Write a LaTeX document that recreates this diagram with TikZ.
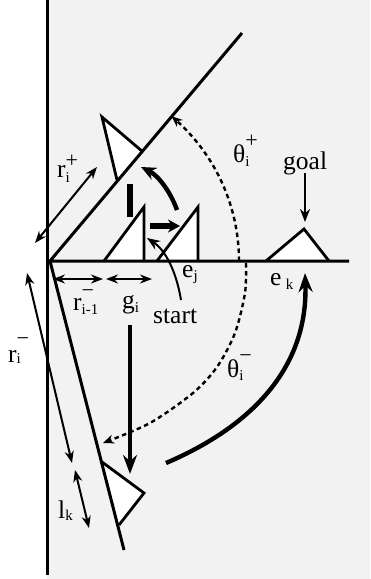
\documentclass[tikz,border=0pt]{standalone}
\usepackage{fontspec}
\setmainfont{Liberation Serif}
\usetikzlibrary{arrows.meta}
\newcommand{\mainf}{\fontsize{25.5}{30}\selectfont}
\newcommand{\subf}{\fontsize{15}{15}\selectfont}
\newcommand{\supf}{\fontsize{22}{22}\selectfont}
% #1 lower of sub, #2 raise of sup, #3 sub, #4 sup
\newcommand{\subsup}[4]{\makebox[0pt][l]{\raisebox{-#1}{\subf #3}}\raisebox{#2}{\supf #4}}
\newcommand{\subonly}[2]{\raisebox{-#1}{\subf #2}}
\begin{document}
\begin{tikzpicture}[x=1pt,y=-1pt,
  mainline/.style={line width=3pt},
  tri/.style={line width=2.8pt, fill=white, line join=miter},
  dbl/.style={line width=2pt, {Stealth[length=12pt,width=9pt]}-{Stealth[length=12pt,width=9pt]}},
  thinarr/.style={line width=2pt, -{Stealth[length=13pt,width=10pt]}},
  dasharr/.style={line width=2.4pt, dash pattern=on 4.5pt off 3.5pt, -{Stealth[length=11pt,width=9pt]}},
  thickarr/.style={line width=4.4pt, -{Stealth[length=19pt,width=14pt]}},
  lab/.style={anchor=base west, inner sep=0pt, font=\mainf}]
\fill[white] (0,0) rectangle (370,579);
\fill[gray!10] (47,0) rectangle (370,579);
\useasboundingbox (0,0) rectangle (370,579);

% key points
\coordinate (apex) at (50,261);
\coordinate (hend) at (349,261);
\coordinate (uend) at (242,33);
\coordinate (lend) at (124,550);
\coordinate (vtop) at (47,0);
\coordinate (vbot) at (47,575);

% triangles (drawn before the lines they sit on)
\draw[tri] (143,152) -- (102,117) -- (117,180);
\draw[tri] (104,261) -- (144,207) -- (144,261);
\draw[tri] (157,261) -- (198,207) -- (198,261);
\draw[tri] (266,261) -- (304,229) -- (329,261);
\draw[tri] (102,462) -- (144,493) -- (119,525);

% main lines
\draw[mainline] (vtop) -- (vbot);
\draw[mainline, line join=miter] (hend) -- (apex) -- (uend);
\draw[mainline] (apex) -- (lend);

% dashed arcs
\draw[dasharr] plot[domain=0:50, samples=40] ({50+189*cos(\x)},{261-189*sin(\x)});
\draw[dasharr] plot[smooth] coordinates {(246,263) (245,293) (235,333) (217,367) (193,393) (150,423) (103,443)};

% thick arcs and arrows
\draw[thickarr] (166,463) .. controls (255,425) and (308,365) .. (305,273);
\draw[line width=4.4pt, -{Stealth[length=15pt,width=13pt]}] (177,210) .. controls (171,193) and (159,176) .. (141,167);
\draw[line width=5.5pt, -{Stealth[length=12pt,width=13pt]}] (150,226) -- (180,226);
\draw[line width=5.5pt] (130,184) -- (130,217);
\draw[thickarr] (130,325) -- (130,474);

% start arrow
\draw[thinarr] (181,300) .. controls (176,270) and (165,250) .. (147,238);
% goal arrow
\draw[thinarr] (305,173) -- (305,222);

% double arrows
\draw[dbl] (53,279) -- (103,279);
\draw[dbl] (106,279) -- (152,279);
\draw[dbl] (97,167) -- (35,243);
\draw[dbl] (27,273) -- (72,463);
\draw[dbl] (75,470) -- (89,528);

% labels
\node[lab] (thp) at (233,162) {θ\subsup{4pt}{14.5pt}{i}{+}};
\node[lab] (goal) at (283,169) {goal};
\node[lab] (ej) at (182,277) {e\subonly{3pt}{j}};
\node[lab] (ek) at (270,285) {e\,\subonly{4pt}{k}};
\node[lab] (start) at (153,323) {start};
\node[lab] (thm) at (227,377) {θ\subsup{3pt}{15pt}{i}{−}};
\node[lab] (rim1) at (73,310) {r\subsup{4pt}{13pt}{i-1}{−}};
\node[lab] (gi) at (122,308) {g\subonly{4pt}{i}};
\node[lab] (rip) at (57,177) {r\subsup{5pt}{9.5pt}{i}{+}};
\node[lab] (rim) at (8,362) {r\subsup{1pt}{16.5pt}{i}{−}};
\node[lab] (lk) at (58,518) {l\subonly{2pt}{k}};
\end{tikzpicture}
\end{document}
